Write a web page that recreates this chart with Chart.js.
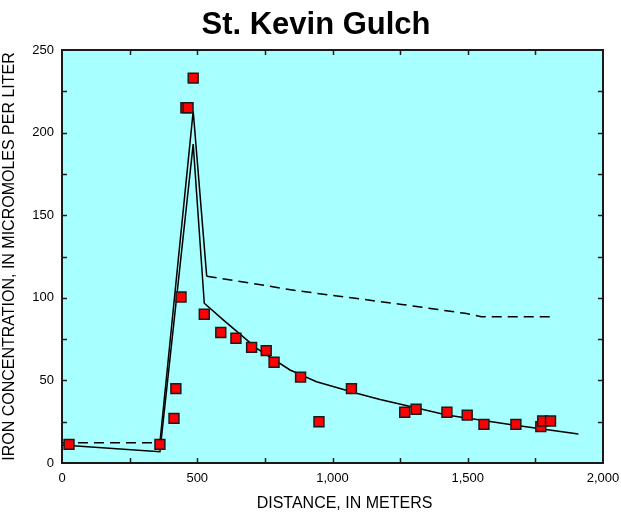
<!DOCTYPE html>
<html>
<head>
<meta charset="utf-8">
<title>St. Kevin Gulch</title>
<script src="https://cdn.jsdelivr.net/npm/chart.js@4.4.1/dist/chart.umd.min.js"></script>
<style>
  html, body { margin: 0; padding: 0; background: #fff; }
</style>
</head>
<body>
<canvas id="chart" width="621" height="512"></canvas>
<script>
/* ── Data ────────────────────────────────────────────────── */
const titleText = 'St. Kevin Gulch';
const xTitleText = 'DISTANCE, IN METERS';

// observed iron, red squares
const obsDist = [26, 362, 414, 421, 440, 458, 466, 485, 526, 587, 643, 701, 755, 784, 882, 950, 1070,
                 1267, 1309, 1423, 1498, 1560, 1678, 1770, 1777, 1806];
const obsIron = [11.3, 11.3, 27, 45, 100.5, 215, 215, 233, 90, 79, 75.5, 70, 68, 61, 52, 25, 45,
                 30.7, 32.5, 30.7, 29, 23.4, 23.4, 22, 25.4, 25.4];

// simulation, dashed line
const simADist = [0, 362, 485, 535, 700, 868, 1050, 1256, 1490, 1550, 1816];
const simAIron = [12.3, 12.3, 213, 113, 108.8, 104.3, 100.4, 96, 90.6, 88.6, 88.6];

// simulation, solid line
const simBDist = [0, 362, 485, 526, 596, 720, 843, 941, 1089, 1176, 1280, 1422, 1669, 1909];
const simBIron = [10.9, 6.8, 193, 96.7, 86.6, 69.4, 56.3, 49.2, 42.2, 38.5, 34.5, 29, 23, 17.6];

// axes
const xLabelTicks = [0, 500, 1000, 1500, 2000];
const xMarkTicks  = [250, 500, 750, 1000, 1250, 1500, 1750];
const yLabelTicks = [0, 50, 100, 150, 200, 250];
const yMarkTicks  = [25, 50, 75, 100, 125, 150, 175, 200, 225];

const toPts = (xs, ys) => xs.map((v, i) => ({ x: v, y: ys[i] }));

/* ── Frame, inward ticks, titles ─────────────────────────── */
const frameTicks = {
  id: 'frameTicks',
  beforeDraw(chart) {
    const { ctx, chartArea: a } = chart;
    ctx.save();
    ctx.fillStyle = '#A8FFFF';
    ctx.fillRect(a.left, a.top, a.width, a.height);
    ctx.restore();
  },
  afterDraw(chart) {
    const { ctx, chartArea: a, scales: { x, y } } = chart;
    ctx.save();
    ctx.strokeStyle = '#1a1a1a';
    ctx.lineWidth = 1.5;
    ctx.beginPath();
    xMarkTicks.forEach(v => {
      const px = Math.round(x.getPixelForValue(v)) + 0.5;
      ctx.moveTo(px, a.bottom); ctx.lineTo(px, a.bottom - 5);
      ctx.moveTo(px, a.top);    ctx.lineTo(px, a.top + 5);
    });
    yMarkTicks.forEach(v => {
      const py = Math.round(y.getPixelForValue(v)) + 0.5;
      ctx.moveTo(a.left, py);  ctx.lineTo(a.left + 5, py);
      ctx.moveTo(a.right, py); ctx.lineTo(a.right - 5, py);
    });
    ctx.stroke();
    ctx.lineWidth = 2;
    ctx.strokeRect(a.left, a.top, a.width, a.height);

    ctx.fillStyle = '#000';
    ctx.textAlign = 'center';
    ctx.textBaseline = 'middle';
    ctx.font = 'bold 31px "Liberation Sans", Arial, sans-serif';
    ctx.fillText(titleText, 316, 25);
    // x axis title sits a little right of the plot centre in the original
    ctx.font = '16px "Liberation Sans", Arial, sans-serif';
    ctx.fillText(xTitleText, (a.left + a.right) / 2 + 12, 504);
    ctx.restore();
  }
};

Chart.defaults.font.family = '"Liberation Sans", Arial, sans-serif';
Chart.defaults.color = '#000';

new Chart(document.getElementById('chart'), {
  type: 'scatter',
  data: {
    datasets: [
      {
        label: 'Observed',
        data: toPts(obsDist, obsIron),
        pointStyle: 'rect',
        pointRadius: 7,
        pointBackgroundColor: '#FF0000',
        pointBorderColor: '#1a1a1a',
        pointBorderWidth: 1.5,
        showLine: false,
      },
      {
        label: 'Simulated (solid)',
        data: toPts(simBDist, simBIron),
        showLine: true,
        borderColor: '#000',
        borderWidth: 1.5,
        pointRadius: 0,
        tension: 0,
      },
      {
        label: 'Simulated (dashed)',
        data: toPts(simADist, simAIron),
        showLine: true,
        borderColor: '#000',
        borderWidth: 1.5,
        pointRadius: 0,
        tension: 0,
        segment: {
          borderDash: c => (c.p0DataIndex === 1 || c.p0DataIndex === 2) ? [] : [10, 6]
        },
      },
    ]
  },
  options: {
    responsive: false,
    animation: false,
    layout: { padding: { top: 50, right: 18, bottom: 0, left: 0 } },
    plugins: { legend: { display: false }, tooltip: { enabled: false } },
    scales: {
      x: {
        type: 'linear', min: 0, max: 2000,
        afterBuildTicks: s => { s.ticks = xLabelTicks.map(v => ({ value: v })); },
        afterFit: s => { s.height = 49; s.paddingLeft = 0; s.paddingRight = 0; },
        grid: { display: false, drawTicks: false },
        border: { display: false },
        ticks: { font: { size: 13 }, padding: 8, maxRotation: 0,
                 callback: v => v.toLocaleString('en-US') }
      },
      y: {
        type: 'linear', min: 0, max: 250,
        afterBuildTicks: s => { s.ticks = yLabelTicks.map(v => ({ value: v })); },
        afterFit: s => { s.width = 62; s.paddingTop = 0; s.paddingBottom = 0; },
        grid: { display: false, drawTicks: false },
        border: { display: false },
        ticks: { font: { size: 13 }, padding: 8 },
        title: { display: true, text: 'IRON CONCENTRATION, IN MICROMOLES PER LITER',
                 font: { size: 16 }, padding: { top: 0, bottom: 0 } }
      }
    }
  },
  plugins: [frameTicks]
});
</script>
</body>
</html>
